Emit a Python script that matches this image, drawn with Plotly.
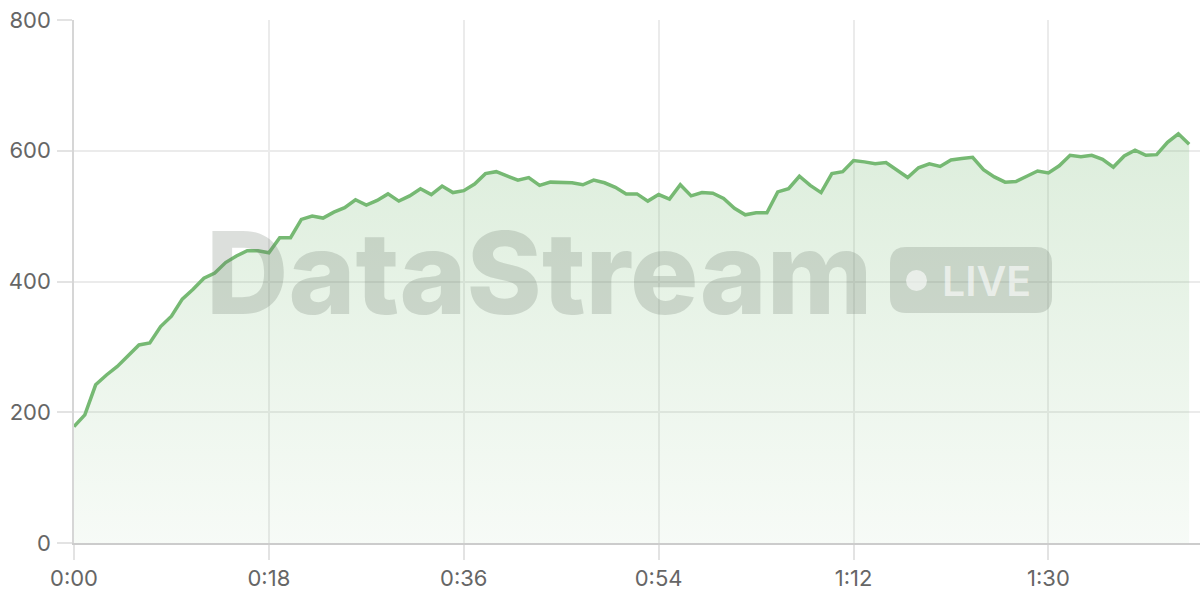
import plotly.graph_objects as go

seconds = list(range(104))
values = [178, 196, 242, 257, 270, 287, 303, 306, 331, 347,
          373, 388, 405, 413, 429, 439, 447, 447, 444, 467,
          467, 495, 500, 497, 506, 513, 525, 517, 524, 534,
          523, 531, 542, 533, 546, 536, 539, 549, 565, 568,
          561, 555, 559, 547, 552, 552, 551, 548, 555, 551,
          544, 534, 534, 523, 533, 526, 548, 531, 536, 535,
          527, 512, 502, 505, 505, 537, 542, 561, 547, 536,
          565, 568, 585, 583, 580, 582, 571, 559, 574, 580,
          576, 586, 588, 590, 571, 560, 552, 553, 561, 569,
          566, 577, 593, 591, 593, 587, 575, 592, 601, 593,
          594, 613, 626, 610]
x_tickvals = [0, 18, 36, 54, 72, 90]
x_ticktext = ["0:00", "0:18", "0:36", "0:54", "1:12", "1:30"]
y_tickvals = [0, 200, 400, 600, 800]

LINE = "rgb(118,185,115)"
FONT = "Inter"
PW, PH, L, B = 1126.0, 523.0, 74, 543


def px(x):
    return (x - L) / PW


def py(y):
    return (B - y) / PH


fig = go.Figure()
fig.add_trace(go.Scatter(
    x=seconds, y=values, mode="lines",
    line=dict(color=LINE, width=3.5),
    fill="tozeroy",
    fillgradient=dict(type="vertical", start=0, stop=max(values),
                      colorscale=[[0, "rgba(118,185,115,0.06)"],
                                  [1, "rgba(118,185,115,0.25)"]]),
    hoverinfo="skip", showlegend=False,
))

WM = "rgba(105,115,105,0.23)"
# watermark text
fig.add_annotation(x=px(539), y=py(272), xref="paper", yref="paper",
                   text="DataStream", showarrow=False,
                   font=dict(family=FONT, size=114, weight=800, color=WM),
                   xanchor="center", yanchor="middle")
# rounded badge
x0, x1, y0, y1, r = px(890), px(1052), py(313), py(247), 16
rx, ry = r / PW, r / PH
path = (f"M {x0+rx},{y0} L {x1-rx},{y0} Q {x1},{y0} {x1},{y0+ry} "
        f"L {x1},{y1-ry} Q {x1},{y1} {x1-rx},{y1} L {x0+rx},{y1} "
        f"Q {x0},{y1} {x0},{y1-ry} L {x0},{y0+ry} Q {x0},{y0} {x0+rx},{y0} Z")
fig.add_shape(type="path", path=path, xref="paper", yref="paper",
              fillcolor=WM, line=dict(width=0), layer="above")
fig.add_shape(type="circle", xref="paper", yref="paper",
              x0=px(906), x1=px(927), y0=py(291), y1=py(270),
              fillcolor="rgba(255,255,255,0.6)", line=dict(width=0), layer="above")
fig.add_annotation(x=px(986), y=py(281), xref="paper", yref="paper",
                   text="LIVE", showarrow=False,
                   font=dict(family=FONT, size=41, weight=600, color="rgba(255,255,255,0.6)"),
                   xanchor="center", yanchor="middle")

fig.update_layout(
    width=1200, height=600,
    margin=dict(l=74, r=0, t=20, b=57, autoexpand=False),
    paper_bgcolor="white", plot_bgcolor="white",
    font=dict(family=FONT, size=22, color="#666666"),
    xaxis=dict(range=[0, 104], tickvals=x_tickvals, ticktext=x_ticktext,
               showgrid=True, gridcolor="#ebebeb", gridwidth=1.5,
               showline=True, linecolor="#cccccc", linewidth=2,
               ticks="outside", ticklen=15, tickcolor="#e3e3e3", tickwidth=1.5,
               ticklabelstandoff=0, zeroline=False, fixedrange=True, automargin=False),
    yaxis=dict(range=[0, 800], tickvals=y_tickvals,
               showgrid=True, gridcolor="#ebebeb", gridwidth=1.5,
               showline=True, linecolor="#d6d6d6", linewidth=1.5,
               ticks="outside", ticklen=15, tickcolor="#e3e3e3", tickwidth=1.5,
               ticklabelstandoff=2, zeroline=False, fixedrange=True, automargin=False),
)

fig.write_html("out.html", config={"displayModeBar": False},
               post_script="document.body.style.margin='0';")
